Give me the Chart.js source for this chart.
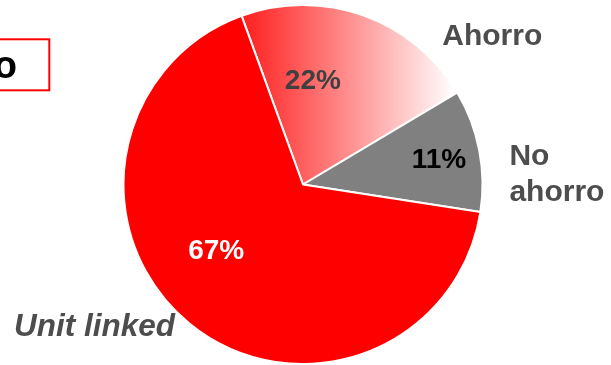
<!DOCTYPE html>
<html>
<head>
<meta charset="utf-8">
<script src="https://cdn.jsdelivr.net/npm/chart.js@4.4.1/dist/chart.umd.min.js"></script>
<style>
  html, body { margin: 0; padding: 0; background: #fff; }
  #wrap { width: 611px; height: 365px; position: relative; }
</style>
</head>
<body>
<div id="wrap"><canvas id="pie"></canvas></div>
<script>
// Distribution by product type
const categories = ['Ahorro', 'No ahorro', 'Unit linked'];
const shares = [22, 11, 67];
const shareLabels = ['22%', '11%', '67%'];
const nameLines = [['Ahorro'], ['No', 'ahorro'], ['Unit linked']];

// label spots: angle from 12 o'clock (deg, clockwise) and distance as a fraction of the radius
const pctSpots = [
    { angle: 5.5, r: 0.575, color: '#404040' },
    { angle: 79.7, r: 0.77, color: '#000000' },
    { angle: -127.6, r: 0.61, color: '#ffffff' }
];
// name spots give the first baseline
const nameSpots = [
    { angle: 53.6, r: 1.31, italic: false, align: 'center', size: 30 },
    { angle: 84.7, r: 1.155, italic: false, align: 'left', size: 30 },
    { angle: -126.0, r: 1.435, italic: true, align: 'center', size: 31.5 }
];

const FONT = '"Liberation Sans", Arial, sans-serif';

function pieGeometry(chart) {
    const a = chart.chartArea;
    return {
        cx: (a.left + a.right) / 2,
        cy: (a.top + a.bottom) / 2,
        r: Math.min(a.right - a.left, a.bottom - a.top) / 2
    };
}

function sliceFill(ctx) {
    if (ctx.dataIndex === 1) return '#808080';
    if (ctx.dataIndex === 2) return '#ff0000';
    const chart = ctx.chart;
    if (!chart.chartArea) return '#ff8080';
    const g = pieGeometry(chart);
    const grad = chart.ctx.createLinearGradient(g.cx - 0.36 * g.r, 0, g.cx + 0.84 * g.r, 0);
    grad.addColorStop(0, '#ff1a1a');
    grad.addColorStop(1, '#ffffff');
    return grad;
}

const labelPlugin = {
    id: 'sliceLabels',
    afterDatasetsDraw(chart) {
        const ctx = chart.ctx;
        const arc = chart.getDatasetMeta(0).data[0];
        const cx = arc.x, cy = arc.y, r = arc.outerRadius;
        const at = (spot) => {
            const t = spot.angle * Math.PI / 180;
            return [cx + Math.sin(t) * spot.r * r, cy - Math.cos(t) * spot.r * r];
        };
        ctx.save();
        ctx.textAlign = 'center';
        ctx.textBaseline = 'middle';

        shareLabels.forEach((txt, i) => {
            const [x, y] = at(pctSpots[i]);
            ctx.font = 'bold 28px ' + FONT;
            ctx.fillStyle = pctSpots[i].color;
            ctx.fillText(txt, x, y);
        });

        ctx.textBaseline = 'alphabetic';
        nameLines.forEach((lines, i) => {
            const s = nameSpots[i];
            const [x, y] = at(s);
            ctx.font = (s.italic ? 'italic ' : '') + 'bold ' + s.size + 'px ' + FONT;
            ctx.fillStyle = '#4d4d4d';
            ctx.textAlign = s.align;
            lines.forEach((ln, k) => ctx.fillText(ln, x, y + k * 36));
        });

        // boxed heading, clipped by the left edge
        ctx.strokeStyle = '#ff0000';
        ctx.lineWidth = 2;
        ctx.strokeRect(-10, 39.3, 59.3, 51);
        ctx.fillStyle = '#000000';
        ctx.font = 'bold 38px ' + FONT;
        ctx.textAlign = 'right';
        ctx.fillText('o', 17, 77.5);
        ctx.restore();
    }
};

new Chart(document.getElementById('pie'), {
    type: 'pie',
    data: {
        labels: categories,
        datasets: [{
            data: shares,
            backgroundColor: sliceFill,
            borderColor: '#ffffff',
            borderWidth: 2
        }]
    },
    options: {
        responsive: true,
        maintainAspectRatio: false,
        animation: false,
        rotation: -20,
        layout: { padding: { top: 4, bottom: 0, left: 0, right: 5 } },
        plugins: {
            legend: { display: false },
            tooltip: { enabled: false }
        }
    },
    plugins: [labelPlugin]
});
</script>
</body>
</html>
